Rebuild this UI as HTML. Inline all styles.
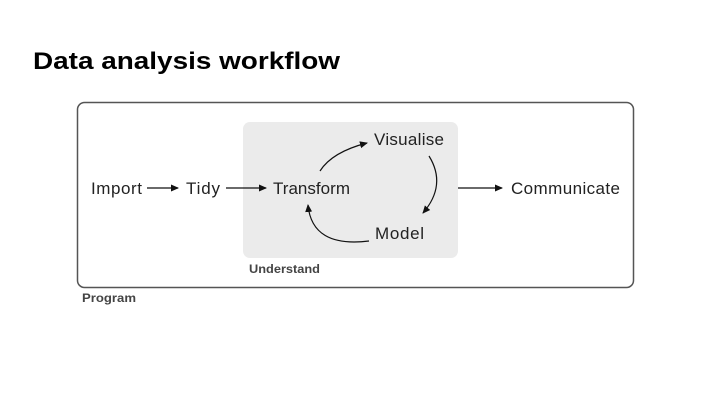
<!DOCTYPE html>
<html><head><style>
body{margin:0;width:720px;height:405px;background:#fff;overflow:hidden;font-family:"Liberation Sans",sans-serif}
</style></head><body>
<svg width="720" height="405" xmlns="http://www.w3.org/2000/svg" font-family="Liberation Sans, sans-serif">
<defs><marker id="a" markerWidth="8" markerHeight="8" refX="7" refY="4" orient="auto" markerUnits="userSpaceOnUse"><path d="M0,0.5 L8,4 L0,7.5z" fill="#111"/></marker></defs>
<text x="33" y="69" font-size="24" font-weight="bold" fill="#000" textLength="307" lengthAdjust="spacingAndGlyphs">Data analysis workflow</text>
<rect x="77.5" y="102.5" width="556" height="185" rx="7" fill="none" stroke="#555" stroke-width="1.5"/>
<rect x="243" y="122" width="215" height="136" rx="7" fill="#ebebeb"/>
<g font-size="17" fill="#222" lengthAdjust="spacingAndGlyphs">
<text x="91" y="194" textLength="51">Import</text>
<text x="186" y="194" textLength="34">Tidy</text>
<text x="273" y="194" textLength="77">Transform</text>
<text x="374" y="145" textLength="70">Visualise</text>
<text x="375" y="239" textLength="49">Model</text>
<text x="511" y="194" textLength="109">Communicate</text>
</g>
<text x="249" y="273" font-size="11.5" font-weight="bold" fill="#444" textLength="71" lengthAdjust="spacingAndGlyphs">Understand</text>
<text x="82" y="302" font-size="11.5" font-weight="bold" fill="#444" textLength="54" lengthAdjust="spacingAndGlyphs">Program</text>
<g stroke="#111" stroke-width="1.2" fill="none">
<line x1="147" y1="188" x2="178" y2="188" marker-end="url(#a)"/>
<line x1="226" y1="188" x2="266" y2="188" marker-end="url(#a)"/>
<line x1="458" y1="188" x2="502" y2="188" marker-end="url(#a)"/>
<path d="M320,171 Q332,152 367,143" marker-end="url(#a)"/>
<path d="M429,156 Q447,185 423,213" marker-end="url(#a)"/>
<path d="M369,241 Q312,248 308,205" marker-end="url(#a)"/>
</g>
</svg>
</body></html>
